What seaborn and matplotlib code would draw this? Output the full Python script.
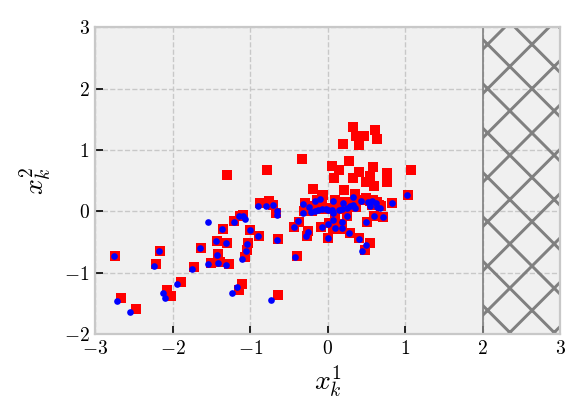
import numpy as np
import pandas as pd
import matplotlib
matplotlib.use('Agg')
import matplotlib.pyplot as plt
import seaborn as sns
from matplotlib.patches import Rectangle

# red squares
red_x = [-2.75, -2.17, -2.22, -1.35, -1.43, -1.64, -1.41, -1.51, -1.39, -1.72,
         -1.89, -2.07, -2.02, -2.67, -2.48, -0.88, -0.76, -0.70, -0.67, -1.13,
         -1.09, -1.205, -1.00, -0.89, -0.64, -1.30, -1.025, -1.04, -1.07, -1.28,
         -0.39, -0.44, -0.37, -0.25, -0.27, -1.10, -1.15, -0.645,
         -1.295, -0.78, -0.33, -0.19, 0.33, 0.61, 0.37, 0.47, 0.64, 0.40,
         0.20, 0.27, 0.05, 0.14, 0.59, 0.40, 1.07, 0.76, 0.085, 0.32,
         0.54, 0.50, 0.76, 0.60, 0.21, 0.35, 0.49, -0.065,
         1.03, 0.83, 0.60, 0.71, 0.25, -0.09, 0.02, 0.10, 0.19, 0.51,
         0.07, 0.19, 0.29, 0.41, 0.01, 0.55, 0.48,
         -0.29, -0.30, -0.22, -0.20, -0.14, -0.08, -0.14, -0.10, -0.06, 0.00,
         0.03, 0.09, 0.07, 0.09, 0.16, 0.20, 0.22, 0.27, 0.31, 0.35,
         0.37, 0.35, 0.45, 0.54, 0.57, 0.59, 0.64, 0.66, 0.69]
red_y = [-0.72, -0.64, -0.86, -0.28, -0.48, -0.59, -0.69, -0.84, -0.83, -0.91,
         -1.15, -1.28, -1.38, -1.42, -1.59, 0.14, 0.16, 0.10, -0.02, -0.08,
         -0.06, -0.16, -0.31, -0.40, -0.45, -0.51, -0.52, -0.635, -0.75, -0.85,
         -0.72, -0.25, -0.17, -0.32, -0.40, -1.18, -1.28, -1.37,
         0.585, 0.68, 0.85, 0.36, 1.37, 1.32, 1.23, 1.23, 1.18, 1.08,
         1.09, 0.82, 0.73, 0.68, 0.72, 0.645, 0.68, 0.62, 0.55, 0.54,
         0.575, 0.47, 0.47, 0.41, 0.35, 0.28, 0.21, 0.27,
         0.27, 0.13, -0.07, -0.09, -0.07, -0.26, -0.19, -0.16, -0.20, -0.18,
         -0.29, -0.29, -0.36, -0.44, -0.43, -0.52, -0.63,
         0.14, 0.00, 0.09, 0.01, 0.19, 0.21, 0.03, 0.04, 0.06, 0.06,
         0.04, 0.18, 0.04, -0.01, 0.04, 0.06, 0.15, 0.07, 0.11, 0.26,
         0.07, 0.13, 0.19, 0.17, 0.11, 0.18, 0.15, 0.10, 0.08]

# blue dots
blue_x = [-2.76, -2.18, -2.24, -1.54, -1.36, -1.44, -1.65, -1.43, -1.54, -1.41,
          -1.755, -1.94, -2.13, -2.10, -2.72, -2.55, -0.90, -0.79, -0.70, -0.66,
          -0.65, -1.15, -1.09, -1.07, -1.205, -1.00, -0.90, -0.66, -1.31, -1.04,
          -1.06, -1.10, -1.31, -0.42, -0.44, -0.38, -0.26, -0.28, -1.17, -1.23,
          -0.73,
          -0.315, -0.315, -0.24, -0.22, -0.165, -0.10, -0.165, -0.12, -0.08, -0.02,
          0.01, 0.07, 0.05, 0.07, 0.14, 0.18, 0.20, 0.245, 0.29, 0.33,
          0.35, 0.33, 0.43, 0.52, 0.55, 0.57, 0.62, 0.64, 0.67, 0.83,
          1.02,
          -0.08, 0.07, 0.01, 0.18, 0.25, 0.50, 0.60, 0.71, 0.09, 0.18,
          0.28, 0.40, 0.00, 0.50, 0.44]
blue_y = [-0.73, -0.64, -0.89, -0.17, -0.28, -0.49, -0.59, -0.71, -0.86, -0.84,
          -0.94, -1.18, -1.33, -1.42, -1.46, -1.64, 0.08, 0.09, 0.10, 0.00,
          -0.06, -0.08, -0.08, -0.12, -0.17, -0.31, -0.41, -0.46, -0.52, -0.53,
          -0.64, -0.78, -0.875, -0.75, -0.25, -0.16, -0.33, -0.41, -1.23, -1.33,
          -1.44,
          0.12, -0.02, 0.075, -0.005, 0.17, 0.20, 0.005, 0.02, 0.04, 0.04,
          0.02, 0.16, 0.02, -0.03, 0.02, 0.04, 0.13, 0.05, 0.09, 0.24,
          0.05, 0.11, 0.17, 0.15, 0.09, 0.16, 0.13, 0.075, 0.06, 0.13,
          0.27,
          -0.25, -0.14, -0.20, -0.18, -0.08, -0.17, -0.08, -0.09, -0.27, -0.27,
          -0.36, -0.45, -0.44, -0.55, -0.65]

x_ticks = [-3, -2, -1, 0, 1, 2, 3]
y_ticks = [-2, -1, 0, 1, 2, 3]
forbidden_x = [2, 3]

red_df = pd.DataFrame({'x': red_x, 'y': red_y})
blue_df = pd.DataFrame({'x': blue_x, 'y': blue_y})

plt.rcParams['font.family'] = 'serif'
plt.rcParams['font.serif'] = ['cmr10']
plt.rcParams['mathtext.fontset'] = 'cm'
plt.rcParams['axes.formatter.use_mathtext'] = True
plt.rcParams['hatch.color'] = '#808080'
plt.rcParams['hatch.linewidth'] = 1.6

dpi = 400 / 3
fig = plt.figure(figsize=(586 / dpi, 419 / dpi), dpi=dpi)
ax = fig.add_axes([0.1625, 0.2026, 0.7935, 0.7327])
ax.set_facecolor('#f0f0f0')

sns.scatterplot(data=red_df, x='x', y='y', marker='s', color='red', s=27,
                linewidth=0, ax=ax, zorder=3)
sns.scatterplot(data=blue_df, x='x', y='y', marker='o', color='blue', s=13,
                linewidth=0, ax=ax, zorder=4)

# infeasible region
ax.add_patch(Rectangle((forbidden_x[0], -2), forbidden_x[1] - forbidden_x[0], 5,
                       facecolor='none', edgecolor='#808080', hatch='x',
                       linewidth=0.9, zorder=2))

ax.set_xlim(-3, 3)
ax.set_ylim(-2, 3)
ax.set_xticks(x_ticks)
ax.set_yticks(y_ticks)
ax.grid(True, linestyle='--', color='#c8c8c8', linewidth=0.75)
ax.set_axisbelow(True)
ax.tick_params(direction='in', length=4.5, width=0.9, color='black',
               labelsize=10.5, pad=3)
for sp in ax.spines.values():
    sp.set_color('#c8c8c8')
    sp.set_linewidth(1.2)
ax.set_xlabel('$x_k^1$', fontsize=15, labelpad=3)
ax.set_ylabel('$x_k^2$', fontsize=15, labelpad=6)

fig.savefig('out.png', dpi=dpi)
